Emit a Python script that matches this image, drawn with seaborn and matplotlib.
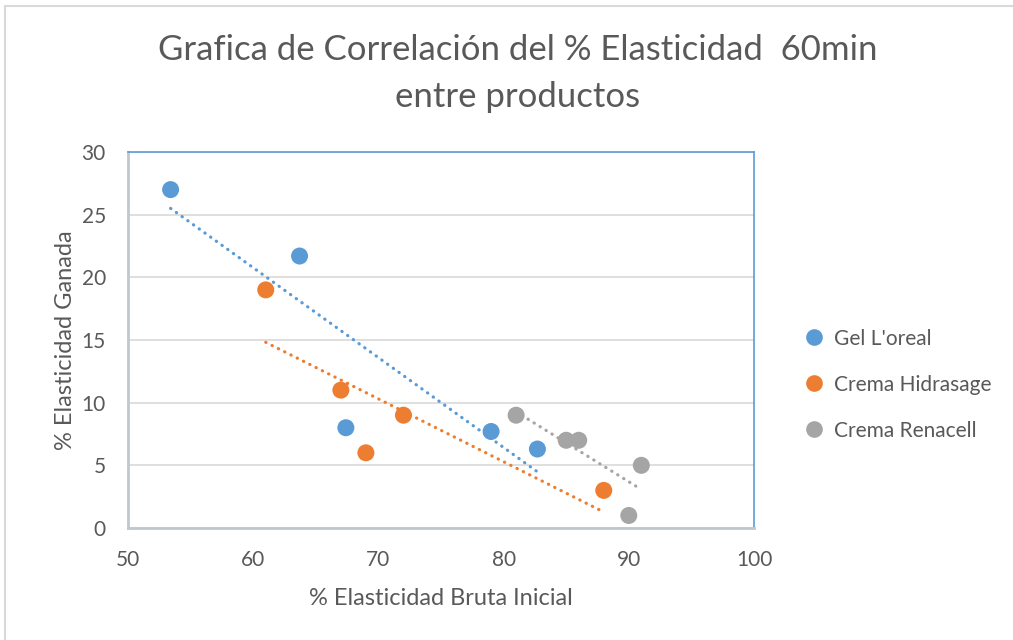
import numpy as np
import pandas as pd
import matplotlib
matplotlib.use("Agg")
import matplotlib.pyplot as plt
from matplotlib.lines import Line2D
import seaborn as sns

# Elasticity measurements per product
gel_x = [53.4, 63.7, 67.4, 79.0, 82.7]
gel_y = [27.0, 21.7, 8.0, 7.7, 6.3]
hid_x = [61.0, 67.0, 69.0, 72.0, 88.0]
hid_y = [19.0, 11.0, 6.0, 9.0, 3.0]
ren_x = [81.0, 85.0, 86.0, 91.0, 90.0]
ren_y = [9.0, 7.0, 7.0, 5.0, 1.0]
products = ["Gel L'oreal", "Crema Hidrasage", "Crema Renacell"]
colors = ["#5B9BD5", "#ED7D31", "#A5A5A5"]

df = pd.concat([
    pd.DataFrame({"x": gel_x, "y": gel_y, "prod": products[0]}),
    pd.DataFrame({"x": hid_x, "y": hid_y, "prod": products[1]}),
    pd.DataFrame({"x": ren_x, "y": ren_y, "prod": products[2]}),
], ignore_index=True)

sns.set_theme(style="white")
plt.rcParams["font.family"] = ["Lato", "DejaVu Sans"]
text_col = "#595959"

fig = plt.figure(figsize=(10.13, 6.4), dpi=100)
ax = fig.add_axes([0.1264, 0.175, 0.6179, 0.5875])

palette = dict(zip(products, colors))
for p in products:
    sub = df[df["prod"] == p]
    sns.regplot(data=sub, x="x", y="y", ax=ax, scatter=False, ci=None,
                truncate=True,
                line_kws={"color": palette[p], "lw": 2.3, "ls": (0, (0.1, 2.1)),
                          "dash_capstyle": "round", "zorder": 2})
sns.scatterplot(data=df, x="x", y="y", hue="prod", palette=palette, ax=ax,
                s=150, edgecolor="none", linewidth=0, zorder=3, legend=False)

ax.set_xlim(50, 100)
ax.set_ylim(0, 30)
ax.set_xticks(range(50, 101, 10))
ax.set_yticks(range(0, 31, 5))
ax.yaxis.grid(True, color="#D9D9D9", lw=1.2)
ax.xaxis.grid(False)
ax.tick_params(axis="x", labelsize=15, colors=text_col, length=0, pad=16)
ax.tick_params(axis="y", labelsize=15, colors=text_col, length=0, pad=16)
for s in ["top", "right"]:
    ax.spines[s].set_color("#5B9BD5")
    ax.spines[s].set_linewidth(1.2)
for s in ["left", "bottom"]:
    ax.spines[s].set_color("#BFC7CF")
    ax.spines[s].set_linewidth(2.0)

ax.set_xlabel("% Elasticidad Bruta Inicial", fontsize=17, color=text_col, labelpad=13)
ax.set_ylabel("% Elasticidad Ganada", fontsize=17, color=text_col, labelpad=4)

fig.text(0.511, 0.922, "Grafica de Correlación del % Elasticidad  60min",
         ha="center", va="center", fontsize=25, color=text_col)
fig.text(0.511, 0.848, "entre productos",
         ha="center", va="center", fontsize=25, color=text_col)

handles = [Line2D([0], [0], marker="o", ls="none", markersize=12,
                  markerfacecolor=c, markeredgecolor="none") for c in colors]
leg = fig.legend(handles, products, loc="upper left",
                 bbox_to_anchor=(0.764, 0.516), frameon=False,
                 handletextpad=0.0, labelspacing=1.25,
                 prop={"size": 15})
for t in leg.get_texts():
    t.set_color(text_col)

# outer chart border
fig.add_artist(Line2D([5 / 1013, 1], [1 - 6 / 640, 1 - 6 / 640],
                      transform=fig.transFigure, color="#D9D9D9", lw=1.5))
fig.add_artist(Line2D([5 / 1013, 5 / 1013], [0, 1 - 6 / 640],
                      transform=fig.transFigure, color="#D9D9D9", lw=1.5))

fig.savefig("out.png", dpi=100, facecolor="white")
